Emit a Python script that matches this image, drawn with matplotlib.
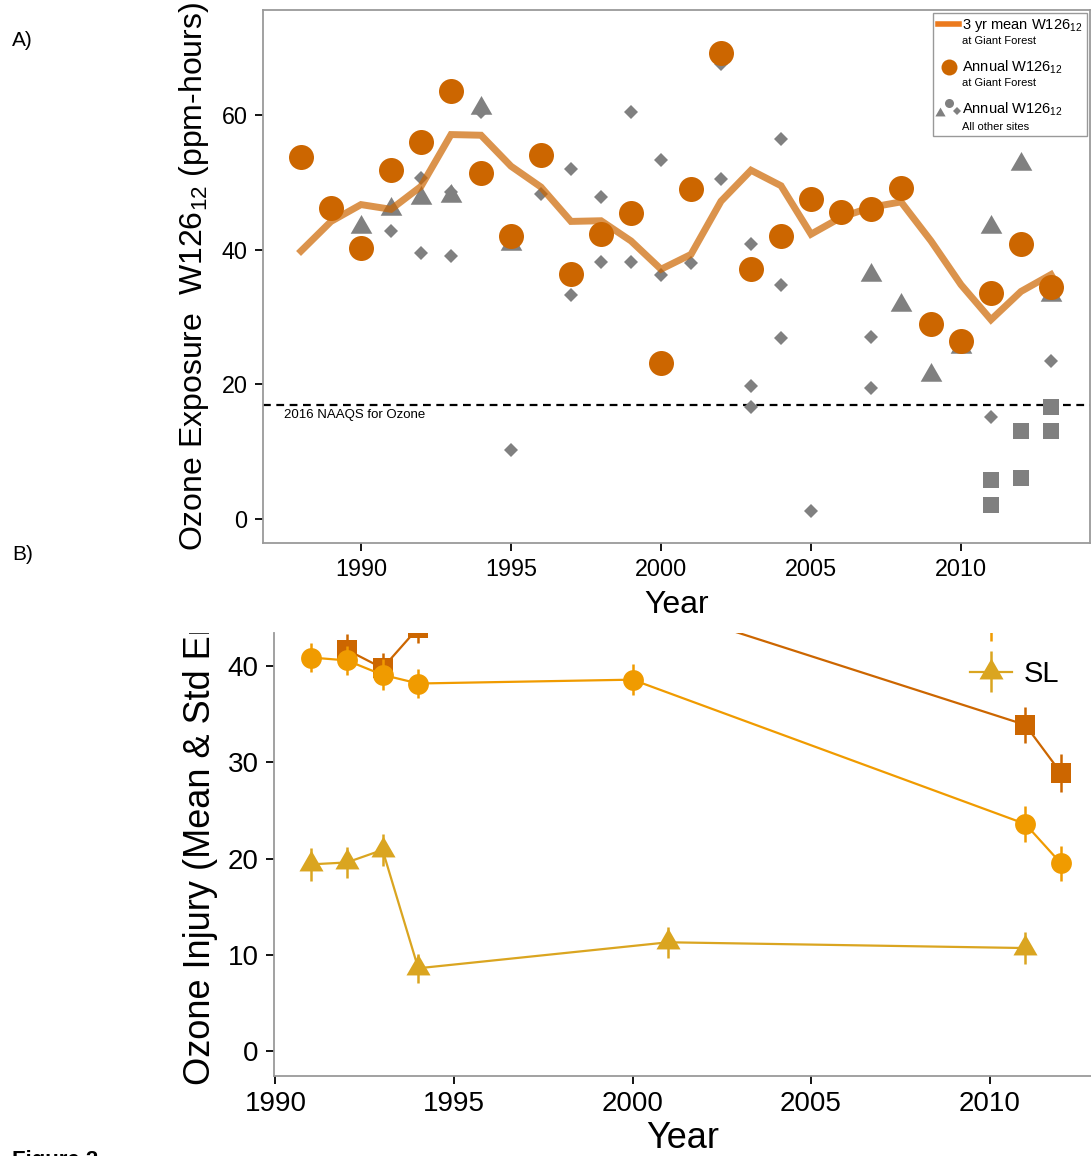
import matplotlib
matplotlib.use('Agg')
import matplotlib.pyplot as plt
from matplotlib.lines import Line2D
from matplotlib.container import ErrorbarContainer
from matplotlib.legend_handler import HandlerBase, HandlerErrorbar
from matplotlib.transforms import Bbox, TransformedBbox

plt.rcParams['font.family'] = ['Liberation Sans', 'DejaVu Sans']
plt.rcParams['mathtext.fontset'] = 'custom'
plt.rcParams['mathtext.rm'] = 'Liberation Sans'
plt.rcParams['mathtext.default'] = 'regular'

# ---- panel A: W126 ozone exposure ----
gf_years = list(range(1988, 2014))
gf_annual = [53.7, 46.2, 40.3, 51.8, 56.0, 63.5, 51.4, 42.0, 54.1, 36.4, 42.4, 45.5, 23.1,
             49.0, 69.2, 37.2, 42.0, 47.5, 45.6, 46.1, 49.2, 28.9, 26.5, 33.5, 40.8, 34.5]
gf_3yr = [39.8, 44.2, 46.7, 46.0, 49.4, 57.1, 57.0, 52.4, 49.3, 44.2, 44.3, 41.3, 37.1,
          39.3, 47.2, 51.8, 49.5, 42.3, 44.8, 46.3, 47.1, 41.3, 34.8, 29.6, 33.8, 36.3]

# other monitoring sites, one list per marker shape
dia_years = [1991, 1992, 1992, 1993, 1993, 1994, 1995, 1996, 1997, 1997, 1998, 1998,
             1999, 1999, 2000, 2000, 2001, 2002, 2002, 2003, 2003, 2003, 2004, 2004,
             2004, 2005, 2007, 2007, 2011, 2013]
dia_vals = [42.8, 50.7, 39.5, 48.5, 39.0, 60.4, 10.3, 48.2, 52.0, 33.2, 47.9, 38.1,
            60.5, 38.1, 53.3, 36.3, 38.0, 67.6, 50.5, 40.9, 19.8, 16.7, 56.4, 34.7,
            26.9, 1.2, 27.1, 19.4, 15.2, 23.4]
tri_years = [1990, 1991, 1992, 1993, 1994, 1995, 2007, 2008, 2009, 2010, 2011, 2012, 2013]
tri_vals = [43.3, 46.1, 47.7, 48.0, 61.1, 40.8, 36.3, 31.8, 21.4, 25.6, 43.3, 52.8, 33.3]
sq_years = [2011, 2011, 2012, 2012, 2013, 2013]
sq_vals = [5.8, 2.1, 13.1, 6.1, 16.6, 13.0]

naaqs = 17

# ---- panel B: ozone injury by site ----
c_years = [1991, 1992, 1993, 1994, 2000, 2011, 2012]
c_mean = [40.9, 40.6, 39.1, 38.2, 38.6, 23.6, 19.5]
c_err = [1.5, 1.5, 1.6, 1.5, 1.6, 1.9, 1.8]
s_years = [1992, 1993, 1994, 2000, 2011, 2012]
s_mean = [41.7, 39.8, 44.0, 47.0, 33.9, 28.9]
s_err = [1.6, 1.6, 1.6, 1.8, 1.9, 2.0]
t_years = [1991, 1992, 1993, 1994, 2001, 2011]
t_mean = [19.4, 19.6, 20.9, 8.6, 11.3, 10.7]
t_err = [1.7, 1.6, 1.7, 1.5, 1.6, 1.7]

orange = '#CC6600'
light_orange = '#F09B00'
gold = '#DAA520'
gray = '#808080'
spine_gray = '#9a9a9a'

# equilateral triangle marker
tri = [(0, 1), (-0.866, -0.5), (0.866, -0.5), (0, 1)]

W, H = 1091, 1156
fig = plt.figure(figsize=(W / 100, H / 100), dpi=100)


def style_axes(ax, labelsize):
    for s in ax.spines.values():
        s.set_color(spine_gray)
        s.set_linewidth(1.3)
    ax.tick_params(direction='out', length=6, width=1.3, color='black',
                   labelsize=labelsize, pad=5)


# panel A
ax = fig.add_axes([263 / W, 1 - 543 / H, 827 / W, 533 / H])
ax.axhline(naaqs, color='black', lw=1.6, ls=(0, (3.5, 2.5)), zorder=1)
ax.text(1987.43, naaqs - 0.7, '2016 NAAQS for Ozone', fontsize=9.5, va='top', ha='left')
ax.plot(dia_years, dia_vals, ls='none', marker='D', ms=6.8, mew=0, color=gray, zorder=2)
ax.plot(tri_years, tri_vals, ls='none', marker=tri, ms=18, mew=0, color=gray, zorder=2)
ax.plot(sq_years, sq_vals, ls='none', marker='s', ms=11, mew=0, color=gray, zorder=2)
ax.plot(gf_years, gf_3yr, color=orange, alpha=0.7, lw=5, solid_joinstyle='miter', zorder=3)
ax.plot(gf_years, gf_annual, ls='none', marker='o', ms=18, mew=0, color=orange, zorder=4)

ax.set_xlim(1986.733, 2014.3)
ax.set_ylim(-3.56, 75.6)
ax.set_xticks([1990, 1995, 2000, 2005, 2010])
ax.set_yticks([0, 20, 40, 60])
style_axes(ax, 16.8)
ax.set_xlabel('Year', fontsize=23, labelpad=6)
ax.set_ylabel('Ozone Exposure  W126$_{12}$ (ppm-hours)', fontsize=23, labelpad=8)


class OtherSitesHandler(HandlerBase):
    def create_artists(self, legend, orig_handle, xdescent, ydescent, width, height,
                       fontsize, trans):
        cx = width / 2 - xdescent
        cy = height / 2 - ydescent
        shapes = [(-6.5, -3.0, tri, 8.5), (0.2, 4.0, 'o', 6.5), (5.8, -1.4, 'D', 4.2)]
        return [Line2D([cx + dx], [cy + dy], ls='none', marker=m, ms=s, mew=0,
                       color=gray, transform=trans) for dx, dy, m, s in shapes]


h_mean = Line2D([], [], color='#EB7A1E', lw=4)
h_gf = Line2D([], [], ls='none', marker='o', ms=11.5, mew=0, color=orange)
h_other = Line2D([], [], ls='none')
blank = [Line2D([], [], ls='none') for _ in range(3)]
leg = ax.legend([h_mean, blank[0], h_gf, blank[1], h_other, blank[2]],
                ['3 yr mean W126$_{12}$', 'at Giant Forest\n',
                 'Annual W126$_{12}$', 'at Giant Forest\n',
                 'Annual W126$_{12}$', 'All other sites'],
                handler_map={h_other: OtherSitesHandler()},
                loc='upper right', fontsize=10.5, handlelength=1.5, handletextpad=0.2,
                borderpad=0.3, labelspacing=0.1, borderaxespad=0.2,
                fancybox=False, framealpha=1, edgecolor='#999999')
leg.get_frame().set_linewidth(1.0)
for i in (1, 3, 5):
    leg.get_texts()[i].set_fontsize(8)

# panel B
ax_b = fig.add_axes([274 / W, 1 - 1076 / H, 817 / W, 443 / H])
eb_s = ax_b.errorbar(s_years, s_mean, yerr=s_err, color=orange, marker='s', ms=14.5,
                     mew=0, lw=1.6, elinewidth=1.8, capsize=0, zorder=2)
eb_c = ax_b.errorbar(c_years, c_mean, yerr=c_err, color=light_orange, marker='o', ms=15,
                     mew=0, lw=1.6, elinewidth=1.8, capsize=0, zorder=3)
eb_t = ax_b.errorbar(t_years, t_mean, yerr=t_err, color=gold, marker=tri, ms=20,
                     mew=0, lw=1.6, elinewidth=1.8, capsize=0, zorder=3)
ax_b.set_xlim(1989.96, 2012.84)
ax_b.set_ylim(-2.6, 43.45)
ax_b.set_xticks([1990, 1995, 2000, 2005, 2010])
ax_b.set_yticks([0, 10, 20, 30, 40])
ax_b.spines['top'].set_visible(False)
ax_b.spines['right'].set_visible(False)
style_axes(ax_b, 20)
ax_b.set_xlabel('Year', fontsize=26, labelpad=2.5)
ax_b.set_ylabel('Ozone Injury (Mean & Std Err)', fontsize=26, loc='bottom')
ax_b.yaxis.set_label_coords(-0.068, -0.02)

leg_b = ax_b.legend([eb_s, eb_c, eb_t], ['GF', 'LM', 'SL'],
                    loc='lower left', bbox_to_anchor=(970 / W, 1 - 688 / H),
                    bbox_transform=fig.transFigure, frameon=False, fontsize=21,
                    handlelength=1.45, handletextpad=0.38, labelspacing=0.8,
                    borderpad=0, borderaxespad=0,
                    handler_map={ErrorbarContainer: HandlerErrorbar(xerr_size=0.7)})

# the panel is cut off along its top edge
top_clip = TransformedBbox(Bbox([[0, 0], [1, 1 - 633 / H]]), fig.transFigure)
for a in leg_b.findobj():
    if a is not leg_b:
        a.set_clip_box(ax_b.bbox)
        a.set_clip_on(True)
ax_b.yaxis.label.set_clip_box(top_clip)
ax_b.yaxis.label.set_clip_on(True)

fig.text(12 / W, 1 - 40 / H, 'A)', fontsize=15, va='center', ha='left')
fig.text(12 / W, 1 - 555 / H, 'B)', fontsize=15, va='center', ha='left')
fig.text(12 / W, 1 - 1166 / H, 'Figure 2', fontsize=16, weight='bold', va='baseline', ha='left')

fig.savefig('out.png', dpi=100)
